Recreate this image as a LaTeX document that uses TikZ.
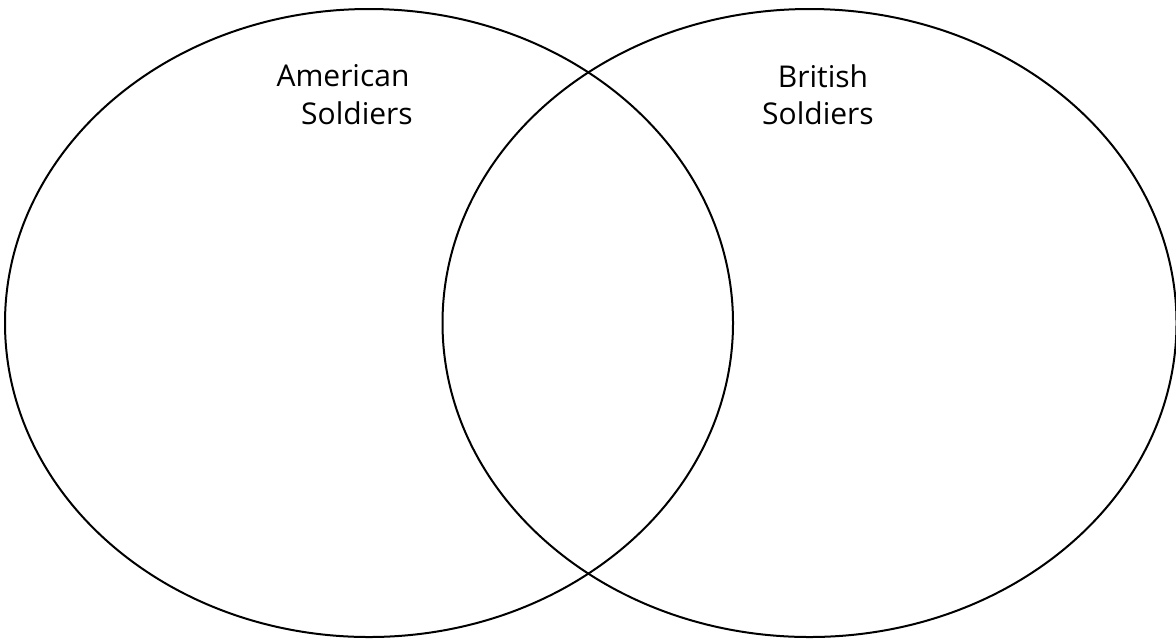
\documentclass[tikz,border=0pt]{standalone}
\usepackage{fontspec}
\setmainfont{Open Sans}
\usetikzlibrary{shapes.geometric}
\definecolor{Ink}{HTML}{000000}
\definecolor{Paper}{HTML}{FFFFFF}
\tikzset{
  setring/.style={
    ellipse, draw=Ink, line width=1pt, inner sep=0pt
  },
  setlabel/.style={
    text=Ink, font=\fontsize{15}{18}\selectfont, inner sep=0pt
  }
}
\begin{document}
\begin{tikzpicture}[x=0.5pt,y=-0.5pt]
    \useasboundingbox[fill=Paper] (0,0) rectangle (1176,639);
    \node[setring,minimum width=364pt,minimum height=314pt] (american) at (369,323) {};
    \node[setring,minimum width=367pt,minimum height=314pt] (british) at (809.5,323) {};
    \node[setlabel] (amertop) at (343,76) {American};
    \node[setlabel] (amerbot) at (357,113) {Soldiers};
    \node[setlabel] (brittop) at (823,76) {British};
    \node[setlabel] (britbot) at (818,113) {Soldiers};
  \end{tikzpicture}
\end{document}
